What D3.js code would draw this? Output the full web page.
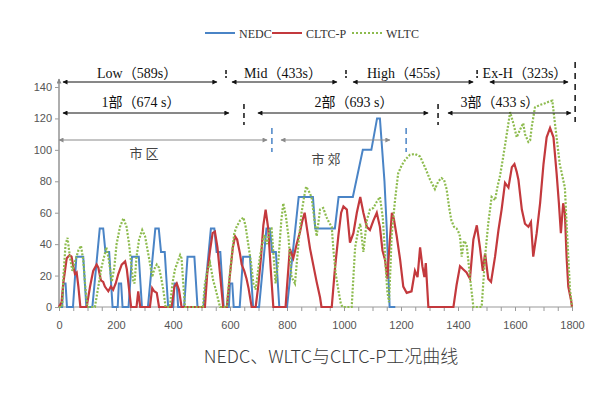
<!DOCTYPE html>
<html>
<head>
<meta charset="utf-8">
<script src="https://cdn.jsdelivr.net/npm/d3@7"></script>
<style>
  body { margin: 0; background: #fff; }
</style>
</head>
<body>
<svg id="svg"></svg>
<script>
var width = 600;
var height = 396;

// series names / colours
var seriesNames = ["NEDC", "CLTC-P", "WLTC"];
var seriesColors = ["#4a84c6", "#c3393d", "#8dbb4e"];

// NEDC speed profile [time s, speed km/h]
var nedc = [
  [0,0],[11,0],[15,15],[23,15],[28,0],[49,0],[61,32],[85,32],[96,0],[117,0],[143,50],[155,50],[163,35],[176,35],[188,0],
  [206,0],[210,15],[218,15],[223,0],[244,0],[256,32],[280,32],[291,0],[312,0],[338,50],[350,50],[358,35],[371,35],[383,0],
  [401,0],[405,15],[413,15],[418,0],[439,0],[451,32],[475,32],[486,0],[507,0],[533,50],[545,50],[553,35],[566,35],[578,0],
  [596,0],[600,15],[608,15],[613,0],[634,0],[646,32],[670,32],[681,0],[702,0],[728,50],[740,50],[748,35],[761,35],[773,0],
  [800,0],[841,70],[891,70],[899,50],[968,50],[981,70],[1031,70],[1066,100],[1096,100],[1116,120],[1126,120],
  [1142,80],[1150,50],[1160,0],[1180,0]
];

// CLTC-P speed profile [time s, speed km/h]
var cltc = [
  [0,0],[9,3],[15,15],[27,31],[37,33],[44,32],[50,26],[56,21],[62,22],[68,13],[75,0],[97,0],[109,13],[120,23],
  [132,27],[138,25],[147,17],[155,16],[161,13],[173,10],[182,13],[190,11],[199,15],[208,21],[220,27],[232,29],
  [238,24],[246,11],[253,0],[272,0],[278,10],[285,0],[319,0],[327,12],[334,10],[343,9],[351,0],[395,0],[405,13],
  [413,15],[421,11],[430,0],[512,0],[520,21],[530,36],[539,47],[547,48],[556,38],[565,21],[576,0],[589,0],[600,21],
  [610,38],[618,45],[625,43],[635,34],[641,27],[650,23],[658,18],[665,12],[676,0],[690,0],[699,13],[709,32],
  [717,52],[725,62],[734,50],[743,24],[752,0],[795,0],[800,13],[810,37],[822,31],[834,40],[846,48],[854,55],
  [862,60],[870,50],[881,37],[893,26],[904,16],[916,6],[921,0],[957,0],[968,24],[980,45],[990,60],[998,64],
  [1010,62],[1021,41],[1033,47],[1045,60],[1057,70],[1068,60],[1080,51],[1091,49],[1103,55],[1115,60],[1126,51],
  [1135,36],[1144,30],[1152,18],[1158,35],[1168,60],[1175,56],[1185,45],[1197,30],[1208,13],[1220,9],[1237,10],
  [1249,23],[1258,19],[1267,38],[1275,26],[1282,19],[1287,28],[1296,0],[1384,0],[1395,14],[1407,26],[1418,24],
  [1430,22],[1442,18],[1454,43],[1466,52],[1477,38],[1487,23],[1495,34],[1506,18],[1516,16],[1530,32],[1542,49],
  [1553,62],[1565,79],[1577,76],[1589,89],[1598,91],[1606,86],[1612,81],[1624,62],[1635,53],[1647,51],[1656,54],
  [1664,32],[1676,47],[1688,66],[1700,91],[1711,108],[1723,114],[1735,108],[1746,85],[1754,66],[1761,47],
  [1769,66],[1775,60],[1781,32],[1787,13],[1797,4],[1800,0]
];

// WLTC speed profile [time s, speed km/h]
var wltc = [
  [0,0],[11,0],[15,18],[23,40],[30,44],[38,32],[47,23],[58,30],[68,36],[77,39],[85,30],[93,11],[100,0],[126,0],
  [138,13],[150,26],[161,34],[166,38],[175,30],[185,16],[194,25],[202,40],[214,51],[226,56.5],[237,51],[246,40],
  [253,28],[260,17],[265,15],[272,32],[281,43],[292,49],[302,45],[311,36],[319,28],[327,19],[334,24],[343,27],
  [351,25],[358,19],[366,11],[374,0],[389,0],[398,15],[407,24],[415,28],[425,33],[430,31],[436,15],[442,0],
  [505,0],[512,15],[522,24],[530,28],[541,17],[550,11],[565,0],[589,0],[594,11],[606,32],[615,47],[623,51],
  [635,55],[647,57],[655,51],[664,40],[674,28],[682,15],[690,11],[697,21],[705,32],[713,40],[720,46],[730,40],
  [740,50],[746,50],[752,35],[760,15],[770,30],[780,55],[787,66],[796,58],[805,45],[816,19],[828,15],[840,40],
  [851,60],[860,70],[867,76.6],[876,74],[886,70],[898,53],[904,45],[916,62],[927,63],[939,57],[947,54],[957,51],
  [963,36],[971,21],[980,11],[989,2],[995,0],[1027,0],[1039,38],[1050,49],[1057,53],[1068,35],[1080,55],
  [1091,62],[1103,63],[1115,67],[1126,70],[1136,57],[1142,40],[1147,23],[1152,10],[1158,3],[1163,25],[1167,45],
  [1179,68],[1190,85],[1202,90],[1214,93.5],[1231,96.8],[1249,97.4],[1267,95.7],[1284,89],[1302,81],[1319,75],
  [1331,80],[1342,82],[1351,81],[1360,75],[1370,62],[1377,55],[1386,51],[1395,50],[1401,48],[1407,45],[1413,32],
  [1421,42],[1430,40],[1436,30],[1442,19],[1454,0],[1483,0],[1495,32],[1506,53],[1518,70],[1530,68],[1539,77],
  [1547,83],[1559,96],[1571,110],[1583,124],[1594,117],[1606,108],[1618,113],[1629,117],[1635,110],[1647,105],
  [1653,106],[1659,115],[1670,127],[1688,128.6],[1705,129.6],[1723,131],[1731,131.3],[1740,117],[1757,91],
  [1769,81],[1775,76],[1781,53],[1787,32],[1793,11],[1800,0]
];

// axis ticks
var yTicks = [0, 20, 40, 60, 80, 100, 120, 140];
var xTicks = d3.range(0, 1801, 50);

// annotation rows (time in s)
var phaseLabels = ["Low（589s）", "Mid（433s）", "High（455s）", "Ex-H（323s）"];
var phaseSpans = [[14, 554], [607, 975], [1032, 1453], [1512, 1786]];
var phaseTextX = [274, 786, 1225, 1635];
var phaseMarks = [586, 1007, 1467];

var partLabels = ["1部（674 s）", "2部（693 s）", "3部（433 s）"];
var partSpans = [[14, 596], [698, 1295], [1365, 1796]];
var partTextX = [288, 1035, 1547];
var partMarks = [649, 1330];
var endMark = 1811;

var zoneLabels = ["市 区", "市 郊"];
var zoneSpans = [[0, 730], [779, 1161]];
var zoneTextX = [298, 937];
var zoneMarks = [747, 1218];

var svg = d3.select("#svg")
    .attr("width", width)
    .attr("height", height)
    .attr("viewBox", [0, 0, width, height]);

svg.append("rect").attr("width", width).attr("height", height).attr("fill", "#fff");

var x = d3.scaleLinear().domain([0, 1800]).range([59, 572]);
var y = d3.scaleLinear().domain([0, 140]).range([307, 87]);

// arrow heads
var defs = svg.append("defs");
function addArrow(id, color) {
  defs.append("marker")
      .attr("id", id)
      .attr("viewBox", "0 0 10 10")
      .attr("refX", 9).attr("refY", 5)
      .attr("markerWidth", 7).attr("markerHeight", 5)
      .attr("markerUnits", "userSpaceOnUse")
      .attr("orient", "auto-start-reverse")
    .append("path")
      .attr("d", "M0,0L10,5L0,10z")
      .attr("fill", color);
}
addArrow("arrK", "#111");
addArrow("arrG", "#8a8a8a");

// axes
var xAxis = svg.append("g")
    .attr("transform", "translate(0," + y(0) + ")")
    .call(d3.axisBottom(x).tickValues(xTicks).tickSize(4).tickPadding(10)
      .tickFormat(d => d % 200 === 0 ? d : ""));
var yAxis = svg.append("g")
    .attr("transform", "translate(" + x(0) + ",0)")
    .call(d3.axisLeft(y).tickValues(yTicks).tickSize(4).tickPadding(3));

[xAxis, yAxis].forEach(function(g) {
  g.select(".domain").remove();
  g.selectAll(".tick line").attr("stroke", "#9a9a9a");
  g.selectAll(".tick text")
      .attr("fill", "#555")
      .style("font-family", "Liberation Sans, Arial, sans-serif")
      .style("font-size", "11px");
});

svg.append("line")
    .attr("x1", x(0)).attr("x2", x(1800))
    .attr("y1", y(0)).attr("y2", y(0))
    .attr("stroke", "#9a9a9a").attr("stroke-width", 1.2);
svg.append("line")
    .attr("x1", x(0)).attr("x2", x(0))
    .attr("y1", y(0)).attr("y2", y(140) - 8)
    .attr("stroke", "#9a9a9a").attr("stroke-width", 1.6)
    .attr("marker-end", "url(#arrG)");

// series lines
var line = d3.line().x(d => x(d[0])).y(d => y(d[1]));

svg.append("path").datum(nedc)
    .attr("fill", "none").attr("stroke", seriesColors[0]).attr("stroke-width", 2)
    .attr("d", line);
svg.append("path").datum(cltc)
    .attr("fill", "none").attr("stroke", seriesColors[1]).attr("stroke-width", 2.2)
    .attr("d", line);
svg.append("path").datum(wltc)
    .attr("fill", "none").attr("stroke", seriesColors[2]).attr("stroke-width", 2.2)
    .attr("stroke-dasharray", "2,1.6")
    .attr("d", line);

// annotations
var serif = "Liberation Serif, 'Noto Sans CJK SC', serif";
var ann = svg.append("g");

function spanArrows(spans, yy, marker, color) {
  ann.selectAll(null).data(spans).join("line")
      .attr("x1", d => x(d[0])).attr("x2", d => x(d[1]))
      .attr("y1", yy).attr("y2", yy)
      .attr("stroke", color).attr("stroke-width", 1)
      .attr("marker-start", "url(#" + marker + ")")
      .attr("marker-end", "url(#" + marker + ")");
}
function marks(ts, y1, y2, color, dash) {
  ann.selectAll(null).data(ts).join("line")
      .attr("x1", d => x(d)).attr("x2", d => x(d))
      .attr("y1", y1).attr("y2", y2)
      .attr("stroke", color).attr("stroke-width", 1.5)
      .attr("stroke-dasharray", dash);
}
function labels(texts, xs, yy, font, size, color) {
  ann.selectAll(null).data(texts).join("text")
      .attr("x", (d, i) => x(xs[i])).attr("y", yy)
      .attr("text-anchor", "middle")
      .attr("fill", color)
      .style("font-family", font)
      .style("font-size", size + "px")
      .text(d => d);
}

spanArrows(phaseSpans, 82, "arrK", "#111");
marks(phaseMarks, 70, 78, "#111", "4,2");
labels(phaseLabels, phaseTextX, 78, serif, 14, "#111");

spanArrows(partSpans, 113, "arrK", "#111");
marks(partMarks, 104, 125, "#111", "5,4");
labels(partLabels, partTextX, 107, serif, 14, "#111");
marks([endMark], 62, 122, "#111", "6,5");

spanArrows(zoneSpans, 140, "arrG", "#8a8a8a");
marks(zoneMarks, 128, 152, seriesColors[0], "6,4");
ann.append("text").attr("x", x(zoneTextX[0])).attr("y", 158)
    .attr("text-anchor", "middle").attr("fill", "#444")
    .style("font-family", "'Noto Sans CJK SC', sans-serif").style("font-size", "13px")
    .text(zoneLabels[0]);
ann.append("text").attr("x", x(zoneTextX[1])).attr("y", 164)
    .attr("text-anchor", "middle").attr("fill", "#444")
    .style("font-family", "'Noto Sans CJK SC', sans-serif").style("font-size", "13px")
    .text(zoneLabels[1]);

// legend
var legendX = [205, 272, 352];
var leg = svg.append("g");
seriesNames.forEach(function(name, i) {
  var lx = legendX[i];
  leg.append("line")
      .attr("x1", lx).attr("x2", lx + 30).attr("y1", 33).attr("y2", 33)
      .attr("stroke", seriesColors[i]).attr("stroke-width", 2)
      .attr("stroke-dasharray", i === 2 ? "2,2" : null);
  leg.append("text")
      .attr("x", lx + 34).attr("y", 37.5)
      .attr("fill", "#333")
      .style("font-family", "Liberation Serif, serif")
      .style("font-size", "12px")
      .text(name);
});

// title
svg.append("text")
    .attr("x", 331).attr("y", 363)
    .attr("text-anchor", "middle")
    .attr("fill", "#3a3a3a")
    .style("font-family", "'Noto Sans CJK SC', sans-serif")
    .style("font-size", "18px")
    .style("font-weight", 300)
    .text("NEDC、WLTC与CLTC-P工况曲线");
</script>
</body>
</html>
